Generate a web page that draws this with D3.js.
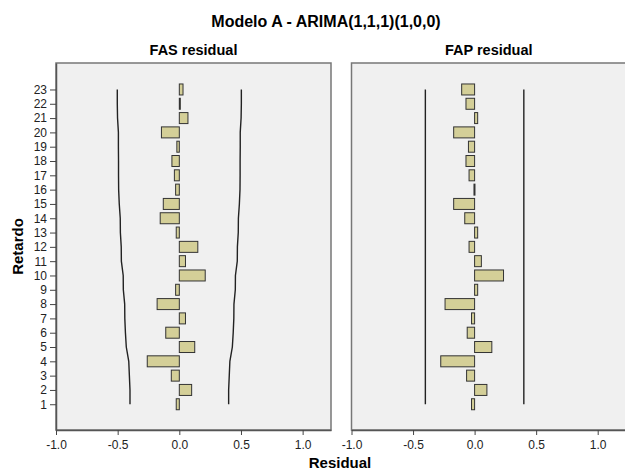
<!DOCTYPE html>
<html>
<head>
<meta charset="utf-8">
<script src="https://cdn.jsdelivr.net/npm/d3@7"></script>
<style>
  body { margin: 0; background: #fff; }
  text { font-family: "Liberation Sans", Arial, sans-serif; }
</style>
</head>
<body>
<div id="chart"></div>
<script>
// lags 1..23
const lags = d3.range(1, 24);

// residual autocorrelation (FAS), lag 1 -> 23
const fasValues = [-0.025, 0.10, -0.065, -0.26, 0.125, -0.11, 0.05, -0.18, -0.03, 0.21,
  0.05, 0.15, -0.025, -0.155, -0.13, -0.03, -0.04, -0.06, -0.02, -0.145, 0.07, 0.005, 0.03];

// upper confidence limit for FAS (lower is the negative)
const fasLimit = [0.40, 0.40, 0.405, 0.41, 0.43, 0.437, 0.442, 0.443, 0.454, 0.455, 0.47, 0.471,
  0.478, 0.479, 0.487, 0.492, 0.493, 0.493, 0.494, 0.494, 0.501, 0.503, 0.503];

// residual partial autocorrelation (FAP), lag 1 -> 23
const fapValues = [-0.025, 0.10, -0.065, -0.275, 0.14, -0.06, -0.025, -0.24, 0.025, 0.235,
  0.055, -0.045, 0.025, -0.08, -0.17, -0.005, -0.045, -0.07, -0.05, -0.17, 0.025, -0.07, -0.105];

const fapLimit = 0.40;

const xTicks = [-1.0, -0.5, 0.0, 0.5, 1.0];

const WIDTH = 625;
const HEIGHT = 470;
const TOP = 63;
const BOTTOM = 430;

const svg = d3
  .select("#chart")
  .append("svg")
  .attr("width", WIDTH)
  .attr("height", HEIGHT);

// shared y scale (lag)
const yScale = d3.scaleLinear().domain([-0.8, 24.85]).range([BOTTOM, TOP]);
const barH = 11;

// main title
svg
  .append("text")
  .attr("x", 326)
  .attr("y", 27)
  .attr("text-anchor", "middle")
  .attr("font-size", "16px")
  .attr("font-weight", "bold")
  .text("Modelo A - ARIMA(1,1,1)(1,0,0)");

// axis titles
svg
  .append("text")
  .attr("x", 340)
  .attr("y", 468)
  .attr("text-anchor", "middle")
  .attr("font-size", "15px")
  .attr("font-weight", "bold")
  .text("Residual");

svg
  .append("text")
  .attr("transform", `translate(23, ${(TOP + BOTTOM) / 2}) rotate(-90)`)
  .attr("text-anchor", "middle")
  .attr("font-size", "15px")
  .attr("font-weight", "bold")
  .text("Retardo");

function drawPanel(x0, x1, title, values, limits, showY) {
  const xScale = d3.scaleLinear().domain([-1, 1.23]).range([x0, x1]);
  const g = svg.append("g");

  g.append("rect")
    .attr("x", x0)
    .attr("y", TOP)
    .attr("width", x1 - x0)
    .attr("height", BOTTOM - TOP)
    .attr("fill", "#f0f0f0")
    .attr("stroke", "#777")
    .attr("stroke-width", 1.5);

  g.append("text")
    .attr("x", (x0 + x1) / 2)
    .attr("y", 55)
    .attr("text-anchor", "middle")
    .attr("font-size", "14.5px")
    .attr("font-weight", "bold")
    .text(title);

  // confidence limits
  const line = d3
    .line()
    .x((d) => xScale(d.v))
    .y((d) => yScale(d.lag));

  [1, -1].forEach((sign) => {
    const pts = lags.map((lag, i) => ({ lag: lag, v: sign * limits[i] }));
    g.append("path")
      .attr("d", line(pts))
      .attr("fill", "none")
      .attr("stroke", "#222")
      .attr("stroke-width", 1.4);
  });

  // bars
  g.selectAll("rect.bar")
    .data(values)
    .enter()
    .append("rect")
    .attr("class", "bar")
    .attr("x", (d) => Math.min(xScale(0), xScale(d)))
    .attr("y", (d, i) => yScale(lags[i]) - barH / 2)
    .attr("width", (d) => Math.max(Math.abs(xScale(d) - xScale(0)), 1))
    .attr("height", barH)
    .attr("fill", "#d4cf98")
    .attr("stroke", "#333")
    .attr("stroke-width", 1);

  // x axis
  const xAxis = g
    .append("g")
    .attr("transform", `translate(0, ${BOTTOM})`)
    .call(
      d3.axisBottom(xScale)
        .tickValues(xTicks)
        .tickFormat((d) => d.toFixed(1))
        .tickSize(5)
        .tickSizeOuter(0)
    );
  xAxis.select(".domain").attr("stroke", "#555").attr("stroke-width", 1.5);
  xAxis.selectAll(".tick line").attr("stroke", "#444");
  xAxis.selectAll(".tick text")
    .attr("font-size", "12px")
    .attr("font-family", "Liberation Sans, Arial, sans-serif")
    .attr("fill", "#222")
    .attr("dy", "0.9em");

  if (showY) {
    const yAxis = g
      .append("g")
      .attr("transform", `translate(${x0}, 0)`)
      .call(
        d3.axisLeft(yScale)
          .tickValues(lags)
          .tickFormat(d3.format("d"))
          .tickSize(6)
          .tickSizeOuter(0)
      );
    yAxis.select(".domain").attr("stroke", "#555").attr("stroke-width", 1.5);
    yAxis.selectAll(".tick line").attr("stroke", "#444");
    yAxis.selectAll(".tick text")
      .attr("font-size", "12px")
      .attr("font-family", "Liberation Sans, Arial, sans-serif")
      .attr("fill", "#222");
  }
}

drawPanel(56, 331, "FAS residual", fasValues, fasLimit, true);
drawPanel(351.5, 626, "FAP residual", fapValues, lags.map(() => fapLimit), false);
</script>
</body>
</html>
